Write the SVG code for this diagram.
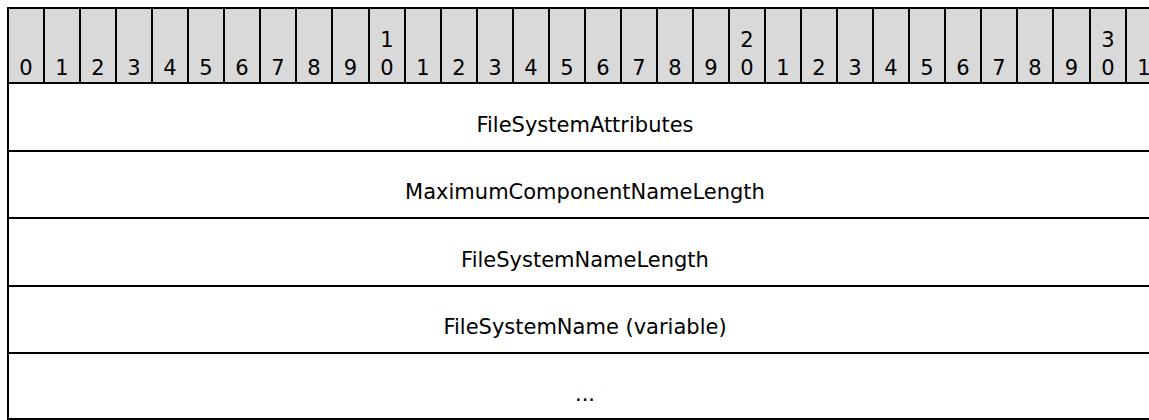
<svg xmlns="http://www.w3.org/2000/svg" width="1149" height="420" viewBox="0 0 1149 420">
<style>
.hdr{fill:#d9d9d9;stroke:none}
.ln{stroke:#000;stroke-width:2;fill:none}
.hl{stroke:#000;stroke-width:2}
.num{font-family:"DejaVu Sans",Verdana,sans-serif;font-size:21px;text-anchor:middle;fill:#000}
.lbl{font-family:"DejaVu Sans",Verdana,sans-serif;font-size:21px;text-anchor:middle;fill:#000}
</style>
<rect x="0" y="0" width="1149" height="420" fill="#fff"/>
<g id="header">
<rect class="hdr" x="8" y="8" width="1154" height="75"/>
<g class="hl">
<line x1="44" y1="8" x2="44" y2="83"/>
<line x1="80" y1="8" x2="80" y2="83"/>
<line x1="116" y1="8" x2="116" y2="83"/>
<line x1="152" y1="8" x2="152" y2="83"/>
<line x1="188" y1="8" x2="188" y2="83"/>
<line x1="224" y1="8" x2="224" y2="83"/>
<line x1="260" y1="8" x2="260" y2="83"/>
<line x1="296" y1="8" x2="296" y2="83"/>
<line x1="332" y1="8" x2="332" y2="83"/>
<line x1="369" y1="8" x2="369" y2="83"/>
<line x1="405" y1="8" x2="405" y2="83"/>
<line x1="441" y1="8" x2="441" y2="83"/>
<line x1="477" y1="8" x2="477" y2="83"/>
<line x1="513" y1="8" x2="513" y2="83"/>
<line x1="549" y1="8" x2="549" y2="83"/>
<line x1="585" y1="8" x2="585" y2="83"/>
<line x1="621" y1="8" x2="621" y2="83"/>
<line x1="657" y1="8" x2="657" y2="83"/>
<line x1="693" y1="8" x2="693" y2="83"/>
<line x1="729" y1="8" x2="729" y2="83"/>
<line x1="765" y1="8" x2="765" y2="83"/>
<line x1="801" y1="8" x2="801" y2="83"/>
<line x1="837" y1="8" x2="837" y2="83"/>
<line x1="873" y1="8" x2="873" y2="83"/>
<line x1="909" y1="8" x2="909" y2="83"/>
<line x1="945" y1="8" x2="945" y2="83"/>
<line x1="981" y1="8" x2="981" y2="83"/>
<line x1="1017" y1="8" x2="1017" y2="83"/>
<line x1="1053" y1="8" x2="1053" y2="83"/>
<line x1="1090" y1="8" x2="1090" y2="83"/>
<line x1="1126" y1="8" x2="1126" y2="83"/>
</g>
<g class="num">
<text x="26" y="75">0</text>
<text x="62" y="75">1</text>
<text x="98" y="75">2</text>
<text x="134" y="75">3</text>
<text x="170" y="75">4</text>
<text x="206" y="75">5</text>
<text x="242" y="75">6</text>
<text x="278" y="75">7</text>
<text x="314" y="75">8</text>
<text x="350.5" y="75">9</text>
<text x="387" y="47">1</text>
<text x="387" y="75">0</text>
<text x="423" y="75">1</text>
<text x="459" y="75">2</text>
<text x="495" y="75">3</text>
<text x="531" y="75">4</text>
<text x="567" y="75">5</text>
<text x="603" y="75">6</text>
<text x="639" y="75">7</text>
<text x="675" y="75">8</text>
<text x="711" y="75">9</text>
<text x="747" y="47">2</text>
<text x="747" y="75">0</text>
<text x="783" y="75">1</text>
<text x="819" y="75">2</text>
<text x="855" y="75">3</text>
<text x="891" y="75">4</text>
<text x="927" y="75">5</text>
<text x="963" y="75">6</text>
<text x="999" y="75">7</text>
<text x="1035" y="75">8</text>
<text x="1071.5" y="75">9</text>
<text x="1108" y="47">3</text>
<text x="1108" y="75">0</text>
<text x="1144" y="75">1</text>
</g>
</g>
<g id="row1"><text class="lbl" x="585" y="131.5">FileSystemAttributes</text></g>
<g id="row2"><text class="lbl" x="585" y="199">MaximumComponentNameLength</text></g>
<g id="row3"><text class="lbl" x="585" y="266.5">FileSystemNameLength</text></g>
<g id="row4"><text class="lbl" x="585" y="333.5">FileSystemName (variable)</text></g>
<g id="row5"><text class="lbl" x="585" y="401">...</text></g>
<g id="grid">
<rect class="ln" x="8" y="8" width="1154" height="411"/>
<line class="ln" x1="8" y1="83" x2="1162" y2="83"/>
<line class="ln" x1="8" y1="151" x2="1162" y2="151"/>
<line class="ln" x1="8" y1="218" x2="1162" y2="218"/>
<line class="ln" x1="8" y1="286" x2="1162" y2="286"/>
<line class="ln" x1="8" y1="353" x2="1162" y2="353"/>
</g>
</svg>
